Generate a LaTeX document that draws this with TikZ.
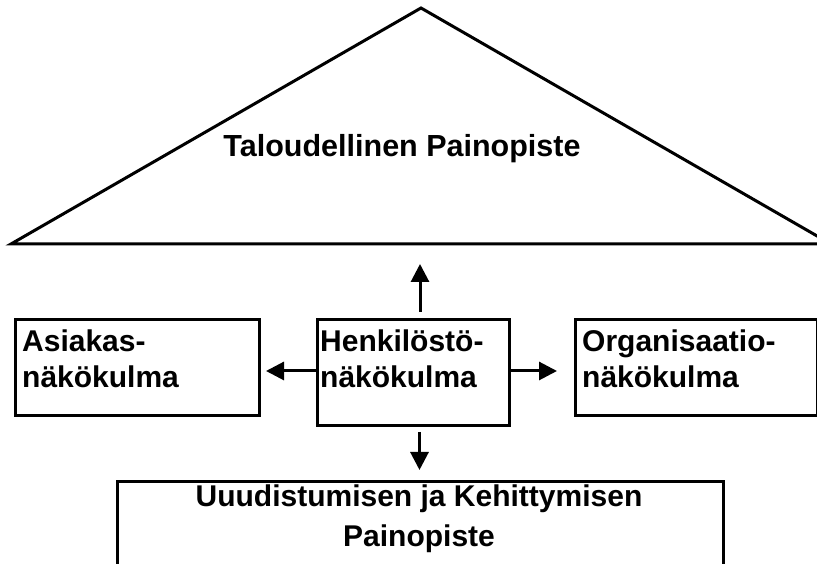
\documentclass[tikz,border=0pt]{standalone}
\usepackage{fontspec}
\setmainfont{Liberation Sans}
\usetikzlibrary{arrows.meta}
\begin{document}
\begin{tikzpicture}[x=1pt,y=1pt,
  line/.style={line width=3pt},
  box/.style={line, draw, rectangle, inner sep=0pt, anchor=north west},
  label/.style={font=\fontsize{30}{36}\selectfont\bfseries, inner sep=0pt, align=left, anchor=base west},
  flow/.style={line, -{Triangle[length=18pt,width=18pt]}}
]
\useasboundingbox (0,0) rectangle (817,564);
\clip (0,0) rectangle (817,564);
\fill[white] (0,0) rectangle (817,564);

% roof: the financial focus
\coordinate (apex) at (421,556);
\coordinate (baseL) at (11,320);
\coordinate (baseR) at (831,320);
\draw[line, line join=miter] (baseL) -- (apex) -- (baseR) -- cycle;
\node[font=\fontsize{30.5}{36}\selectfont\bfseries, inner sep=0pt, anchor=base] (talous) at (402,407) {Taloudellinen Painopiste};
\coordinate (roof) at (420,300);

% the three perspective boxes
\node[box, minimum width=244pt, minimum height=96pt] (asiakas) at (14,246) {};
\node[box, minimum width=192pt, minimum height=106pt] (henkilo) at (316,246) {};
\node[box, minimum width=242pt, minimum height=96pt] (organ) at (574,246) {};
\node[label] (asiakasT) at (22,176) {Asiakas-\\näkökulma};
\node[label] (henkiloT) at (320,176) {Henkilöstö-\\näkökulma};
\node[label] (organT) at (582,176) {Organisaatio-\\näkökulma};

% renewal and development focus
\node[box, minimum width=606pt, minimum height=120pt] (uudis) at (116,84) {};
\node[font=\fontsize{30}{40}\selectfont\bfseries, inner sep=0pt, align=center, anchor=base] (uudisT) at (419,17) {Uuudistumisen ja Kehittymisen\\Painopiste};

% arrows out of the personnel perspective
\coordinate (side) at (0,193);
\draw[flow, shorten <=6pt] (henkilo.north -| roof) -- (roof);
\draw[flow, shorten >=5pt] (henkilo.west |- side) -- (asiakas.east |- side);
\draw[flow, shorten >=17pt] (henkilo.east |- side) -- (organ.west |- side);
\draw[flow, shorten <=5pt, shorten >=10pt] ([xshift=6pt]henkilo.south) -- ([xshift=6pt]henkilo.south |- uudis.north);
\end{tikzpicture}
\end{document}
